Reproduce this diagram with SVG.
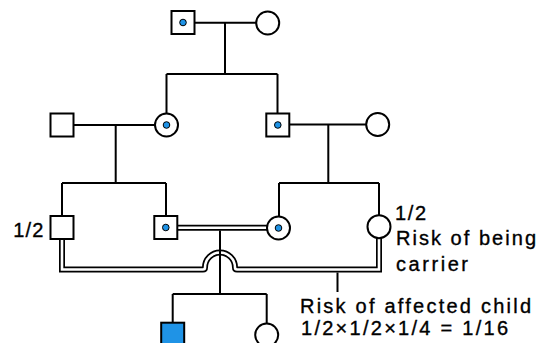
<svg xmlns="http://www.w3.org/2000/svg" width="545" height="343" viewBox="0 0 545 343">
<style>
.ln{fill:none;stroke:#000;stroke-width:2}
.sym{fill:#fff;stroke:#000;stroke-width:2}
.aff{fill:#1f93e6;stroke:#000;stroke-width:2}
.dot{fill:#1f93e6;stroke:#000;stroke-width:1}
.dblo{fill:none;stroke:#000;stroke-width:6}
.dbli{fill:none;stroke:#fff;stroke-width:2.6}
.t{font-family:"Liberation Sans",Arial,sans-serif;font-size:20px;fill:#000;stroke:#000;stroke-width:0.35}
</style>
<rect width="545" height="343" fill="#fff"/>
<g id="connectors">
  <path class="ln" d="M194.5 22.7H256M225 22.7V74M166.5 74H277.5M166.5 74V113.5M277.5 74V113.5"/>
  <path class="ln" d="M73.5 125H155M115.7 125V183M62 183H166M62 183V216M166 183V216"/>
  <path class="ln" d="M289 124.5H366M328.3 124.5V183M279 183H379M279 183V216.5M379 183V215.2"/>
  <path class="dblo" d="M177 227.7H267"/>
  <path class="dbli" d="M175 227.7H268"/>
  <path class="dblo" d="M62 238V269.5H203Q205 269.5 205 267.5A15 15 0 0 1 235 267.5Q235 269.5 237 269.5H379V238"/>
  <path class="dbli" d="M62 237V269.5H203Q205 269.5 205 267.5A15 15 0 0 1 235 267.5Q235 269.5 237 269.5H379V237"/>
  <path class="ln" d="M220 230.5V294M172.7 294H266.7M172.7 294V323M266.7 294V323.5M337.5 272.5V292"/>
</g>
<g id="I-1"><rect class="sym" x="171.5" y="11" width="23" height="23"/><circle class="dot" cx="183" cy="22.5" r="3.3"/></g>
<g id="I-2"><circle class="sym" cx="267.7" cy="23" r="11.5"/></g>
<g id="II-1"><rect class="sym" x="50.5" y="113.5" width="23" height="23"/></g>
<g id="II-2"><circle class="sym" cx="166.5" cy="125" r="11.5"/><circle class="dot" cx="166.5" cy="125" r="3.3"/></g>
<g id="II-3"><rect class="sym" x="266.3" y="113.5" width="23" height="23"/><circle class="dot" cx="277.8" cy="125" r="3.3"/></g>
<g id="II-4"><circle class="sym" cx="377.7" cy="124.5" r="11.5"/></g>
<g id="III-1"><rect class="sym" x="50.5" y="216" width="23" height="23"/></g>
<g id="III-2"><rect class="sym" x="154.3" y="216" width="23" height="23"/><circle class="dot" cx="165.8" cy="227.5" r="3.3"/></g>
<g id="III-3"><circle class="sym" cx="278.5" cy="228" r="11.5"/><circle class="dot" cx="278.5" cy="228" r="3.3"/></g>
<g id="III-4"><circle class="sym" cx="379" cy="226.7" r="11.5"/></g>
<g id="IV-1"><rect class="aff" x="161.2" y="322.7" width="23" height="23"/></g>
<g id="IV-2"><circle class="sym" cx="266.7" cy="335" r="11.5"/></g>
<g id="labels">
  <text class="t" x="13.3" y="237" textLength="30" lengthAdjust="spacing">1/2</text>
  <text class="t" x="395" y="220" textLength="31" lengthAdjust="spacing">1/2</text>
  <text class="t" x="396" y="245" textLength="140" lengthAdjust="spacing">Risk of being</text>
  <text class="t" x="396" y="270.5" textLength="72" lengthAdjust="spacing">carrier</text>
  <text class="t" x="300" y="312.5" textLength="231" lengthAdjust="spacing">Risk of affected child</text>
  <text class="t" x="301" y="334.5" textLength="207" lengthAdjust="spacing">1/2×1/2×1/4 = 1/16</text>
</g>
</svg>
